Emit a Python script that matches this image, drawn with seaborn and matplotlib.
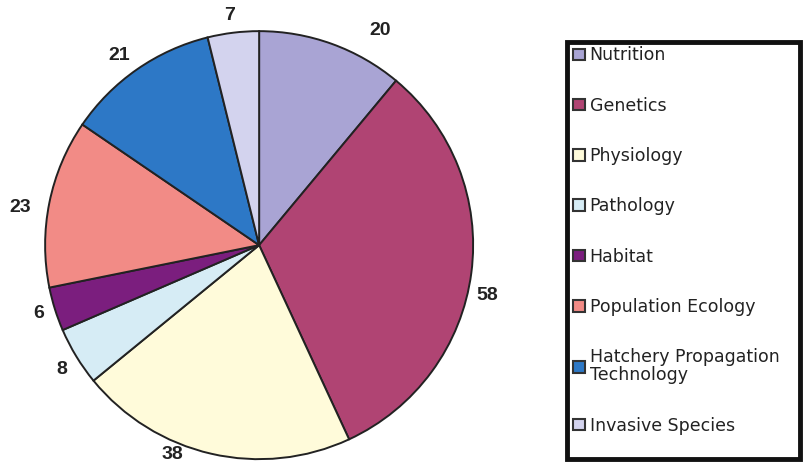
import numpy as np
import seaborn as sns
import matplotlib.pyplot as plt
from matplotlib.patches import Rectangle

# research topic counts
topics = ['Nutrition', 'Genetics', 'Physiology', 'Pathology', 'Habitat',
          'Population Ecology', 'Hatchery Propagation\nTechnology', 'Invasive Species']
counts = [20, 58, 38, 8, 6, 23, 21, 7]
colors = ['#A9A4D4', '#B04473', '#FFFBDA', '#D6ECF5', '#7B1E7E',
          '#F28B86', '#2D78C6', '#D3D3EE']

# label placement tweaks (angle shift in degrees, radius)
label_shift = [-9.5, -5, -9.6, 1, -0.3, 2.4, 1.7, 0.4]
label_r = [1.15, 1.09, 1.06, 1.09, 1.08, 1.13, 1.10, 1.08]

sns.set_theme(style='white')
plt.rcParams['font.family'] = ['Liberation Sans', 'DejaVu Sans']

fig = plt.figure(figsize=(8.08, 4.69), dpi=100)
ax = fig.add_axes([0.0557, 0.021, 0.53, 0.9126])

wedges, _ = ax.pie(counts, colors=colors, startangle=90, counterclock=False,
                   wedgeprops=dict(edgecolor='#222222', linewidth=1.4))
for w, c, d, r in zip(wedges, counts, label_shift, label_r):
    ang = np.deg2rad((w.theta1 + w.theta2) / 2 + d)
    ax.text(r * np.cos(ang), r * np.sin(ang), str(c), ha='center', va='center',
            fontsize=14, fontweight='bold', color='#222222')
ax.set_xlim(-1, 1)
ax.set_ylim(-1, 1)
ax.set_aspect('equal')

leg = fig.legend(wedges, topics, loc='upper left', bbox_to_anchor=(0.703, 0.912),
                 prop=dict(family='DejaVu Sans', size=12.5), frameon=False,
                 handlelength=0.65, handleheight=0.65, handletextpad=0.3,
                 labelspacing=1.86, borderpad=0.3, borderaxespad=0)
for h in leg.legend_handles:
    h.set_edgecolor('#333333')
    h.set_linewidth(1.5)
for t in leg.get_texts():
    t.set_color('#222222')
    t.set_linespacing(1.0)

fig.patches.append(Rectangle((0.7017, 0.0213), 0.2884, 0.889, transform=fig.transFigure,
                             fill=False, edgecolor='#111111', linewidth=3.5))

fig.savefig('out.png', dpi=100)
